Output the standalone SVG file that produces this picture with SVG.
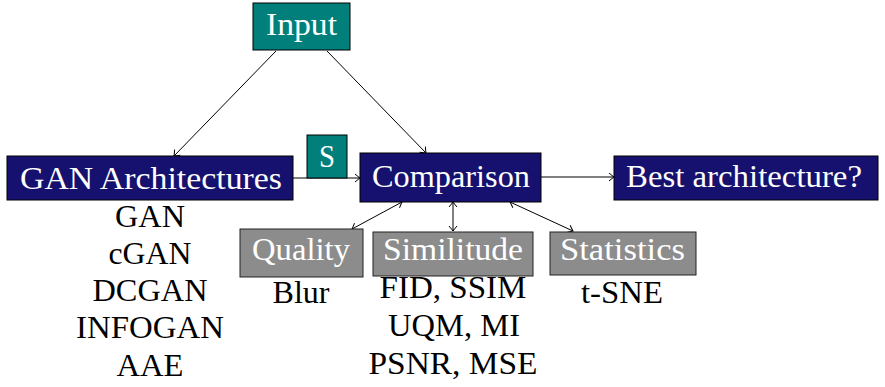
<svg xmlns="http://www.w3.org/2000/svg" width="885" height="387" viewBox="0 0 885 387">
<style>
.w{fill:#ffffff}
.k{fill:#000000}
.navy{fill:#16116e;stroke:#000;stroke-width:1}
.teal{fill:#007f7b;stroke:#000;stroke-width:1}
.gray{fill:#8c8c8c;stroke:#222;stroke-width:1}
.c{stroke:#000;stroke-width:1;fill:none;marker-end:url(#ah)}
.d{stroke:#000;stroke-width:1;fill:none;marker-end:url(#ah);marker-start:url(#ah)}
</style>
<defs>
<marker id="ah" viewBox="-6 -5 7 10" refX="0" refY="0" markerWidth="7" markerHeight="10" markerUnits="userSpaceOnUse" orient="auto-start-reverse">
<path d="M-5,-4 Q-1.5,-1 0,0 Q-1.5,1 -5,4" fill="none" stroke="#000" stroke-width="1"/>
</marker>
</defs>
<rect width="885" height="387" fill="#fff"/>
<g id="connectors">
<line class="c" x1="276" y1="51" x2="174" y2="156"/>
<line class="c" x1="327" y1="51" x2="426" y2="153"/>
<line class="c" x1="293" y1="178" x2="360" y2="178"/>
<line class="c" x1="541" y1="177" x2="614" y2="177"/>
<line class="d" x1="402" y1="202" x2="352" y2="229"/>
<line class="d" x1="453" y1="202" x2="453" y2="231"/>
<line class="d" x1="510" y1="202" x2="573" y2="231"/>
</g>
<g font-family="Liberation Serif, serif" font-size="31" text-anchor="middle">
<g id="input">
<rect class="teal" x="253" y="3" width="97" height="47"/>
<text class="w" x="301.5" y="35" textLength="71" lengthAdjust="spacingAndGlyphs">Input</text>
</g>
<g id="gan-architectures">
<rect class="navy" x="7" y="156" width="286" height="44"/>
<text class="w" x="151" y="189" textLength="262" lengthAdjust="spacingAndGlyphs">GAN Architectures</text>
</g>
<g id="gan-list">
<text class="k" x="150" y="227" textLength="70" lengthAdjust="spacingAndGlyphs">GAN</text>
<text class="k" x="150" y="264" textLength="83" lengthAdjust="spacingAndGlyphs">cGAN</text>
<text class="k" x="150" y="301" textLength="115" lengthAdjust="spacingAndGlyphs">DCGAN</text>
<text class="k" x="150" y="338" textLength="148" lengthAdjust="spacingAndGlyphs">INFOGAN</text>
<text class="k" x="150" y="376" textLength="67" lengthAdjust="spacingAndGlyphs">AAE</text>
</g>
<g id="s">
<rect class="teal" x="307" y="135" width="40" height="43"/>
<text class="w" x="327" y="167" textLength="16" lengthAdjust="spacingAndGlyphs">S</text>
</g>
<g id="comparison">
<rect class="navy" x="360" y="153" width="181" height="49"/>
<text class="w" x="451" y="187" textLength="158" lengthAdjust="spacingAndGlyphs">Comparison</text>
</g>
<g id="best">
<rect class="navy" x="614" y="156" width="264" height="44"/>
<text class="w" x="744" y="187" textLength="236" lengthAdjust="spacingAndGlyphs">Best architecture?</text>
</g>
<g id="quality">
<rect class="gray" x="240" y="229" width="123" height="48"/>
<text class="w" x="301" y="260" textLength="98" lengthAdjust="spacingAndGlyphs">Quality</text>
<text class="k" x="301" y="303" textLength="57" lengthAdjust="spacingAndGlyphs">Blur</text>
</g>
<g id="similitude">
<rect class="gray" x="373" y="232" width="160" height="44"/>
<text class="w" x="453" y="260" textLength="140" lengthAdjust="spacingAndGlyphs">Similitude</text>
<text class="k" x="453" y="298" textLength="147" lengthAdjust="spacingAndGlyphs">FID, SSIM</text>
<text class="k" x="454" y="336" textLength="132" lengthAdjust="spacingAndGlyphs">UQM, MI</text>
<text class="k" x="453" y="374" textLength="169" lengthAdjust="spacingAndGlyphs">PSNR, MSE</text>
</g>
<g id="statistics">
<rect class="gray" x="550" y="232" width="146" height="43"/>
<text class="w" x="622.5" y="260" textLength="125" lengthAdjust="spacingAndGlyphs">Statistics</text>
<text class="k" x="622" y="303" textLength="82" lengthAdjust="spacingAndGlyphs">t-SNE</text>
</g>
</g>
</svg>
